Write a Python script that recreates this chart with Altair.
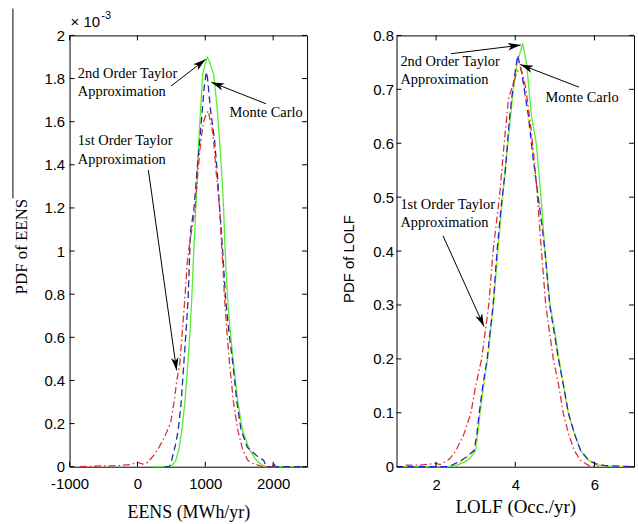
import math
import altair as alt
import pandas as pd

# ---------------- EENS panel data (x: MWh/yr, y: PDF in units of 1e-3) ----------------
eens_mc_x = [250, 479, 520, 567, 610, 655, 700, 743, 775, 801, 830, 845, 860, 904, 935, 962, 1000, 1030,
             1060, 1090, 1123, 1170, 1211, 1250, 1270, 1284, 1305, 1328, 1370, 1416, 1480, 1548, 1650,
             1753, 1830, 1899, 2500]
eens_mc_y = [0, 0, 0.01, 0.03, 0.08, 0.17, 0.30, 0.48, 0.63, 0.78, 1.00, 1.09, 1.20, 1.51, 1.68, 1.82, 1.87,
             1.90, 1.88, 1.85, 1.82, 1.68, 1.51, 1.32, 1.20, 1.07, 0.92, 0.78, 0.62, 0.48, 0.30, 0.17, 0.08,
             0.03, 0.01, 0, 0]

eens_t2_x = [400, 469, 500, 527, 560, 601, 645, 684, 715, 747, 782, 835, 880, 918, 950, 981, 1005, 1021,
             1040, 1075, 1138, 1180, 1211, 1240, 1270, 1299, 1350, 1406, 1465, 1528, 1620, 1724, 1800,
             1860, 1885, 1900, 1990, 2010, 2030, 2500]
eens_t2_y = [0, 0, 0.02, 0.06, 0.10, 0.17, 0.30, 0.48, 0.62, 0.78, 1.09, 1.20, 1.38, 1.51, 1.63, 1.75, 1.81,
             1.83, 1.78, 1.66, 1.51, 1.35, 1.20, 1.08, 0.93, 0.78, 0.62, 0.48, 0.30, 0.17, 0.09, 0.06, 0.04,
             0.03, 0.01, 0, 0, 0.02, 0, 0]

eens_t1_x = [-850, -600, -300, -100, 0, 80, 150, 234, 300, 370, 430, 487, 540, 580, 625, 660, 699, 735,
             762, 811, 849, 890, 933, 975, 1010, 1045, 1075, 1100, 1123, 1165, 1211, 1233, 1260, 1284,
             1320, 1357, 1415, 1479, 1550, 1626, 1700, 1841, 2000]
eens_t1_y = [0, 0.003, 0.005, 0.01, 0.02, 0.012, 0.02, 0.05, 0.08, 0.12, 0.16, 0.20, 0.30, 0.40, 0.48,
             0.62, 0.78, 0.95, 1.02, 1.12, 1.20, 1.36, 1.51, 1.60, 1.63, 1.65, 1.60, 1.57, 1.51, 1.35, 1.20,
             1.07, 0.93, 0.78, 0.62, 0.48, 0.30, 0.17, 0.08, 0.03, 0.015, 0, 0]

eens_xticks = [-1000, 0, 1000, 2000]
eens_yticks = [0, 0.2, 0.4, 0.6, 0.8, 1, 1.2, 1.4, 1.6, 1.8, 2]

eens_ann_text = ["2nd Order Taylor", "Approximation", "Monte Carlo", "1st Order Taylor", "Approximation"]
eens_ann_x = [-878, -878, 1358, -878, -878]
eens_ann_y = [1.802, 1.719, 1.622, 1.492, 1.402]
eens_arr_x0 = [494, 1895, 161]
eens_arr_y0 = [1.765, 1.683, 1.376]
eens_arr_x1 = [1006, 1090, 577]
eens_arr_y1 = [1.889, 1.783, 0.447]

# ---------------- LOLF panel data (x: occ./yr, y: PDF) ----------------
lolf_mc_x = [1.0, 2.3, 2.5, 2.7, 2.85, 3.0, 3.05, 3.11, 3.2, 3.3, 3.45, 3.56, 3.68, 3.81, 3.95, 4.05, 4.19,
             4.29, 4.41, 4.53, 4.65, 4.75, 4.88, 5.0, 5.1, 5.22, 5.34, 5.5, 5.65, 5.85, 6.05, 6.3, 7.0]
lolf_mc_y = [0, 0, 0.002, 0.008, 0.015, 0.03, 0.06, 0.1, 0.15, 0.2, 0.3, 0.4, 0.5, 0.6, 0.7, 0.75, 0.785,
             0.745, 0.65, 0.6, 0.5, 0.4, 0.3, 0.25, 0.2, 0.15, 0.1, 0.06, 0.03, 0.012, 0.004, 0.001, 0]

lolf_ex_x = [2.4, 2.6, 2.8, 3.0, 3.1, 3.3, 3.45, 3.55, 3.65, 3.76, 3.87, 3.97, 4.07, 4.17, 4.32, 4.46, 4.58,
             4.69, 4.76, 4.88, 5.1, 5.34, 5.65, 5.9, 6.2, 7.0]
lolf_ex_y = [0.002, 0.008, 0.018, 0.035, 0.1, 0.2, 0.3, 0.4, 0.48, 0.55, 0.65, 0.71, 0.76, 0.73, 0.65, 0.57,
             0.5, 0.44, 0.4, 0.3, 0.2, 0.1, 0.03, 0.01, 0.002, 0]

lolf_t2_x = [1.0, 2.25, 2.4, 2.6, 2.8, 2.96, 3.03, 3.09, 3.18, 3.29, 3.44, 3.54, 3.64, 3.75, 3.86, 3.96,
             4.06, 4.16, 4.33, 4.45, 4.58, 4.68, 4.75, 4.87, 4.98, 5.09, 5.22, 5.34, 5.5, 5.65, 5.85, 6.05,
             6.27, 6.6, 7.0]
lolf_t2_y = [0, 0, 0.003, 0.01, 0.02, 0.03, 0.06, 0.1, 0.15, 0.2, 0.3, 0.4, 0.48, 0.55, 0.65, 0.714,
             0.763, 0.732, 0.652, 0.573, 0.5, 0.444, 0.4, 0.3, 0.25, 0.2, 0.15, 0.1, 0.06, 0.03, 0.012,
             0.005, 0.002, 0.001, 0]

lolf_t1_x = [1.23, 1.6, 2.0, 2.1, 2.2, 2.35, 2.5, 2.7, 2.88, 3.0, 3.15, 3.33, 3.44, 3.60, 3.72, 3.83, 4.04,
             4.13, 4.2, 4.27, 4.41, 4.53, 4.63, 4.77, 4.96, 5.1, 5.21, 5.35, 5.49, 5.65, 5.86, 6.1]
lolf_t1_y = [0.003, 0.003, 0.006, 0.004, 0.008, 0.015, 0.03, 0.06, 0.1, 0.15, 0.2, 0.3, 0.4, 0.5, 0.6,
             0.683, 0.732, 0.74, 0.725, 0.70, 0.62, 0.53, 0.43, 0.3, 0.2, 0.15, 0.1, 0.06, 0.03, 0.012,
             0.002, 0]

lolf_xticks = [2, 4, 6]
lolf_yticks = [0, 0.1, 0.2, 0.3, 0.4, 0.5, 0.6, 0.7, 0.8]

lolf_ann_text = ["2nd Order Taylor", "Approximation", "Monte Carlo", "1st Order Taylor", "Approximation"]
lolf_ann_x = [1.098, 1.098, 4.765, 1.098, 1.098]
lolf_ann_y = [0.744, 0.710, 0.677, 0.4776, 0.4438]
lolf_arr_x0 = [2.373, 5.61, 2.174]
lolf_arr_y0 = [0.766, 0.704, 0.4285]
lolf_arr_x1 = [4.137, 4.129, 3.21]
lolf_arr_y1 = [0.782, 0.746, 0.26]

# ---------------- styling ----------------
W = 239
H = 434
SANS = "Liberation Sans"
SERIF = "Liberation Serif"
ARROW = "M0,0 L0.55,1.9 L0,1.4 L-0.55,1.9 Z"
GREEN = "#55ee33"
RED = "#e03030"
DASHDOT = [7, 3, 1.5, 3]


def make_panel(series, xdom, ydom, xticks, yticks, xaxis_kw, yaxis_kw,
               ann_text, ann_x, ann_y, ax0, ay0, ax1, ay1, extras=()):
    xs = alt.Scale(domain=xdom, nice=False, zero=False)
    ys = alt.Scale(domain=ydom, nice=False, zero=False)
    xa = alt.Axis(**xaxis_kw)
    ya = alt.Axis(**yaxis_kw)

    def X(f):
        return alt.X(f, scale=xs, axis=xa)

    def Y(f):
        return alt.Y(f, scale=ys, axis=ya)

    layers = []
    for xv, yv, style in series:
        df = pd.DataFrame({"x": xv, "y": yv})
        layers.append(
            alt.Chart(df).mark_line(**style).encode(
                x=X("x:Q"), y=Y("y:Q"), order=alt.Order("x:Q"))
        )
    # inward tick marks on all four sides
    xt = pd.DataFrame({"t": xticks})
    yt = pd.DataFrame({"t": yticks})
    for y0, y1 in [(H, H - 5), (0, 5)]:
        layers.append(alt.Chart(xt).mark_rule(color="black", strokeWidth=1).encode(
            x=X("t:Q"), y=alt.value(y0), y2=alt.value(y1)))
    for x0, x1 in [(0, 5), (W, W - 5)]:
        layers.append(alt.Chart(yt).mark_rule(color="black", strokeWidth=1).encode(
            y=Y("t:Q"), x=alt.value(x0), x2=alt.value(x1)))
    # annotation texts
    adf = pd.DataFrame({"x": ann_x, "y": ann_y, "label": ann_text})
    layers.append(alt.Chart(adf).mark_text(
        align="left", baseline="alphabetic", font=SERIF, fontSize=14.5, color="black").encode(
        x=X("x:Q"), y=Y("y:Q"), text="label:N"))
    # arrows
    kx = W / (xdom[1] - xdom[0])
    ky = H / (ydom[1] - ydom[0])
    angs = [math.degrees(math.atan2((b - a) * kx, (d - c) * ky)) % 360
            for a, b, c, d in zip(ax0, ax1, ay0, ay1)]
    ardf = pd.DataFrame({"x0": ax0, "y0": ay0, "x1": ax1, "y1": ay1, "ang": angs})
    layers.append(alt.Chart(ardf).mark_rule(color="black", strokeWidth=1).encode(
        x=X("x0:Q"), y=Y("y0:Q"), x2="x1:Q", y2="y1:Q"))
    layers.append(alt.Chart(ardf).mark_point(
        shape=ARROW, filled=True, size=185, color="black", opacity=1, strokeWidth=0).encode(
        x=X("x1:Q"), y=Y("y1:Q"), angle=alt.Angle("ang:Q", scale=None)))
    layers.extend(extras)
    return alt.layer(*layers).properties(width=W, height=H)


def axis_kw(values, title, pad, title_font, title_size, title_x=None, title_y=None, angle=None):
    kw = dict(values=values, labelExpr="'' + datum.value", ticks=False, tickSize=0, domain=False,
              grid=False, labelPadding=pad, labelFont=SANS, labelFontSize=15, labelColor="black",
              labelFlush=False, labelOverlap=False, title=title, titleFont=title_font,
              titleFontSize=title_size, titleFontWeight="normal", titleColor="black",
              titleBaseline="alphabetic", titleAlign="center")
    if title_x is not None:
        kw["titleX"] = title_x
    if title_y is not None:
        kw["titleY"] = title_y
    if angle is not None:
        kw["titleAngle"] = angle
    return kw


dummy = pd.DataFrame({"v": [0]})
left_extras = [
    # layout anchor (invisible) fixing the top-left corner of the figure
    alt.Chart(dummy).mark_rule(strokeWidth=0, opacity=0).encode(
        x=alt.value(-69), x2=alt.value(0), y=alt.value(-33)),
    # thin vertical stroke at the top-left edge of the figure
    alt.Chart(dummy).mark_rule(color="black", strokeWidth=1).encode(
        x=alt.value(-57), y=alt.value(-27), y2=alt.value(164)),
    alt.Chart(dummy).mark_text(align="left", baseline="alphabetic", font=SANS, fontSize=15,
                               color="black").encode(
        x=alt.value(1), y=alt.value(-8), text=alt.value("\u00d7 10")),
    alt.Chart(dummy).mark_text(align="left", baseline="alphabetic", font=SANS, fontSize=11,
                               color="black").encode(
        x=alt.value(32), y=alt.value(-17), text=alt.value("-3")),
]

left = make_panel(
    [
        (eens_mc_x, eens_mc_y, dict(color=GREEN, strokeWidth=1.3)),
        (eens_t2_x, eens_t2_y, dict(color="#2a2aa0", strokeWidth=1.3, strokeDash=[7, 4])),
        (eens_t1_x, eens_t1_y, dict(color=RED, strokeWidth=1.3, strokeDash=DASHDOT)),
    ],
    [-1000, 2500], [0, 2], eens_xticks, eens_yticks,
    axis_kw(eens_xticks, "EENS (MWh/yr)", 10, SERIF, 18, title_y=51),
    axis_kw(eens_yticks, "PDF of EENS", 5, SERIF, 17, title_x=-43, title_y=212, angle=270),
    eens_ann_text, eens_ann_x, eens_ann_y, eens_arr_x0, eens_arr_y0, eens_arr_x1, eens_arr_y1,
    extras=left_extras,
)

right = make_panel(
    [
        (lolf_mc_x, lolf_mc_y, dict(color=GREEN, strokeWidth=1.3)),
        (lolf_ex_x, lolf_ex_y, dict(color="#f0f000", strokeWidth=1.3, strokeDash=[4, 4])),
        (lolf_t2_x, lolf_t2_y, dict(color="#2020ee", strokeWidth=1.3, strokeDash=[7, 4])),
        (lolf_t1_x, lolf_t1_y, dict(color=RED, strokeWidth=1.3, strokeDash=DASHDOT)),
    ],
    [1, 7], [0, 0.8], lolf_xticks, lolf_yticks,
    axis_kw(lolf_xticks, "LOLF (Occ./yr)", 11, SERIF, 19, title_y=46.5),
    axis_kw(lolf_yticks, "PDF of LOLF", 3, SANS, 15, title_x=-43, title_y=224.5, angle=270),
    lolf_ann_text, lolf_ann_x, lolf_ann_y, lolf_arr_x0, lolf_arr_y0, lolf_arr_x1, lolf_arr_y1,
)

chart = alt.hconcat(left, right, spacing=90, bounds="flush").properties(
    padding=0, background="white"
).configure_view(stroke="black", strokeWidth=1)

chart.save("out.html", embed_options={"renderer": "svg", "actions": False})
